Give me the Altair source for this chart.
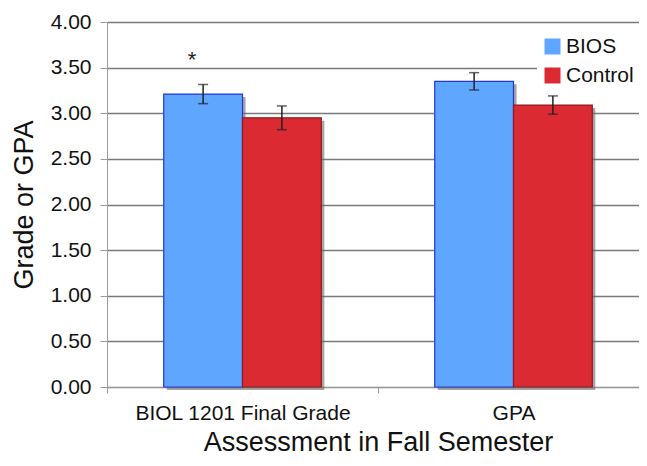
import altair as alt
import pandas as pd

categories = ["BIOL 1201 Final Grade", "GPA"]
groups = ["BIOS", "Control"]
cat_col = ["BIOL 1201 Final Grade", "BIOL 1201 Final Grade", "GPA", "GPA"]
grp_col = ["BIOS", "Control", "BIOS", "Control"]
means = [3.21, 2.95, 3.35, 3.09]
errs = [0.105, 0.13, 0.095, 0.10]
signif = ["*", "", "", ""]
y_ticks = [0, 0.5, 1.0, 1.5, 2.0, 2.5, 3.0, 3.5, 4.0]

df = pd.DataFrame({
    "cat": cat_col,
    "grp": grp_col,
    "mean": means,
    "lo": [m - e for m, e in zip(means, errs)],
    "hi": [m + e for m, e in zip(means, errs)],
    "sig": signif,
})

FONT = "Liberation Sans"

# the category axis runs on past the right edge of the picture, as in the reference
x = alt.X(
    "cat:N",
    sort=categories,
    scale=alt.Scale(paddingInner=0, paddingOuter=0, range=[0, 542]),
    axis=alt.Axis(
        title="Assessment in Fall Semester",
        labelAngle=0,
        tickBand="extent",
        grid=False,
        labelFontSize=21,
        labelPadding=9,
        labelLimit=400,
        tickSize=6,
        titleFontSize=27,
        titleBaseline="alphabetic",
        titleX=271,
        titleY=63,
    ),
)
xo = alt.XOffset("grp:N", sort=groups, scale=alt.Scale(paddingInner=0, paddingOuter=0.72))
xo_shadow = alt.XOffset(
    "grp:N", sort=groups, scale=alt.Scale(paddingInner=0, paddingOuter=0.72, align=0.527)
)
y_scale = alt.Scale(domain=[0, 4], nice=False)

bars_y = alt.Y(
    "mean:Q",
    scale=y_scale,
    axis=alt.Axis(
        title="Grade or GPA",
        values=y_ticks,
        format=".2f",
        labelFontSize=21,
        labelPadding=9,
        tickSize=7,
        titleFontSize=27,
        titlePadding=12,
        grid=True,
    ),
)

base = alt.Chart(df)

shadow = base.mark_bar(color="#6a6a6a", opacity=0.6, yOffset=3).encode(
    x=x, xOffset=xo_shadow, y=alt.Y("mean:Q", scale=y_scale)
)

bars = base.mark_bar(strokeWidth=1.2).encode(
    x=x,
    xOffset=xo,
    y=bars_y,
    color=alt.Color(
        "grp:N",
        sort=groups,
        scale=alt.Scale(domain=groups, range=["#5ea6ff", "#dc2a32"]),
        legend=alt.Legend(
            title=None,
            orient="none",
            legendX=430,
            legendY=9,
            fillColor="white",
            padding=5,
            symbolType="square",
            symbolSize=256,
            symbolStrokeWidth=0,
            labelFontSize=21,
            labelOffset=3,
            labelLimit=200,
            rowPadding=7,
        ),
    ),
    stroke=alt.Stroke(
        "grp:N",
        scale=alt.Scale(domain=groups, range=["#2437d6", "#8e1b1f"]),
        legend=None,
    ),
)

err_rule = base.mark_rule(color="#222222", strokeWidth=1.5).encode(
    x=x, xOffset=xo, y=alt.Y("lo:Q", scale=y_scale), y2="hi:Q"
)
cap_lo = base.mark_tick(color="#222222", size=10, thickness=1.5).encode(
    x=x, xOffset=xo, y=alt.Y("lo:Q", scale=y_scale)
)
cap_hi = base.mark_tick(color="#222222", size=10, thickness=1.5).encode(
    x=x, xOffset=xo, y=alt.Y("hi:Q", scale=y_scale)
)
stars = base.mark_text(fontSize=22, dx=-11, dy=-18, baseline="alphabetic", color="#222222").encode(
    x=x, xOffset=xo, y=alt.Y("hi:Q", scale=y_scale), text="sig:N"
)

front = alt.layer(bars, err_rule, cap_lo, cap_hi, stars)

chart = (
    alt.layer(shadow, front)
    .resolve_scale(xOffset="independent")
    .properties(
        width=532,
        height=365,
        autosize=alt.AutoSizeParams(type="none"),
        padding={"left": 99, "top": 14, "right": 0, "bottom": 71},
    )
    .configure(font=FONT)
    .configure_view(strokeWidth=0)
    .configure_axis(
        labelFont=FONT,
        titleFont=FONT,
        labelColor="#111111",
        titleColor="#111111",
        titleFontWeight="normal",
        domainColor="#9a9a9a",
        tickColor="#9a9a9a",
        gridColor="#7a7a7a",
        gridWidth=1.3,
    )
    .configure_legend(labelFont=FONT, labelColor="#111111")
)

chart.save("out.html", embed_options={"renderer": "svg", "actions": False})
